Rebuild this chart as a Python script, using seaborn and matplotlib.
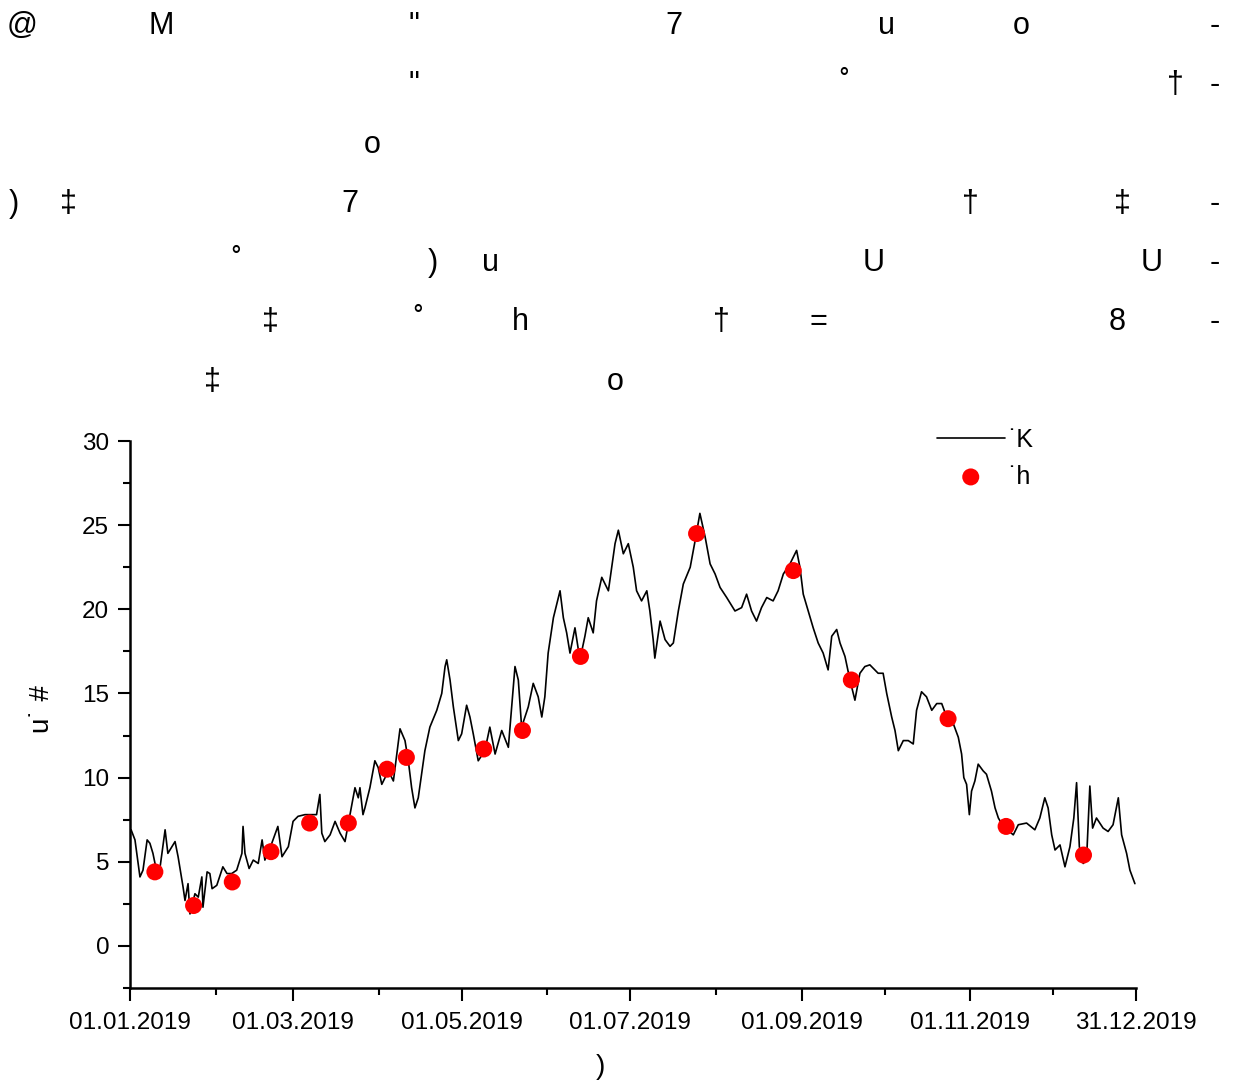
import numpy as np
import pandas as pd
import matplotlib
matplotlib.use("Agg")
import matplotlib.pyplot as plt
import matplotlib.dates as mdates
from matplotlib.ticker import MultipleLocator, FixedLocator
import seaborn as sns

# ---------------------------------------------------
# DATA
# ---------------------------------------------------

# day of year (0 = 01.01.2019) and value of the continuous series
line_days = [
    0.4, 1.8, 3.6, 4.7, 6.2, 7.2, 8.3, 9.8, 10.9, 12.7, 13.7, 15.2, 16.3, 17.4,
    19.2, 19.9, 21.0, 21.7, 23.5, 24.7, 26.0, 26.4, 27.9, 28.9, 29.7, 31.4,
    33.6, 35.1, 36.8, 38.6, 40.5, 40.9, 41.6, 43.1, 44.6, 46.4, 47.8, 48.8,
    51.3, 53.5, 55.0, 57.3, 59.0, 60.8, 63.3, 65.7, 67.5, 68.7, 69.4, 70.5,
    72.4, 74.2, 76.0, 77.8, 79.6, 81.4, 82.6, 83.2, 84.3, 85.0, 86.8, 88.6,
    89.8,
    91.1, 93.5, 95.3, 97.7, 99.5, 100.7, 101.9, 103.1, 104.3, 106.7, 108.5,
    111.0, 112.8, 114.0, 114.6, 115.8, 117.0, 118.8, 120.0, 121.8, 123.0,
    124.2, 126.0, 128.4, 130.2, 132.1, 134.5, 136.9, 138.1, 139.3, 140.5,
    141.7, 144.1, 145.9, 147.7, 149.0, 150.1, 151.3, 153.2, 155.6, 156.8,
    158.0, 159.2, 161.0, 162.8, 164.6, 165.8, 167.6, 168.8, 170.7, 173.1,
    175.5, 176.7, 178.5, 180.3, 182.1,
    183.3, 185.1, 187.0, 188.1, 189.3, 189.9, 191.8, 193.6, 195.4, 196.6,
    198.4, 200.2, 202.7, 204.5, 206.2, 208.1, 209.9, 211.7, 213.5, 215.9,
    218.9, 221.3, 223.1, 224.9, 226.7, 228.5, 230.4, 232.7, 234.5, 236.4,
    238.8, 241.2, 242.4, 243.6, 245.4, 247.2, 249.0, 250.8, 252.6, 253.9,
    255.7, 256.9, 258.7, 260.5, 262.3, 264.1, 265.9, 267.7, 270.7,
    272.5, 273.8, 275.6, 276.8, 278.0, 279.8, 281.6, 283.4, 284.6, 286.4,
    288.2, 290.1, 291.9, 293.7, 295.5, 297.9, 299.7, 300.9, 301.7, 302.7,
    303.7, 304.5, 305.7, 306.9, 308.7, 309.9, 311.7, 313.0, 314.2, 316.0,
    319.6, 321.4, 324.4, 327.4, 329.2, 331.0, 332.2, 333.5, 334.7, 336.5,
    338.3, 340.1, 341.5, 342.5, 343.5, 344.9, 346.1, 347.3, 348.3, 349.7,
    352.1, 353.9, 355.7, 357.6, 358.8, 360.6, 361.8, 363.6,
]
line_values = [
    6.9, 6.3, 4.1, 4.5, 6.3, 6.1, 5.5, 4.3, 4.7, 6.9, 5.5, 5.9, 6.2, 5.3,
    3.5, 2.7, 3.7, 1.9, 3.1, 2.9, 4.1, 2.3, 4.4, 4.3, 3.4, 3.6,
    4.7, 4.3, 4.3, 4.5, 5.5, 7.1, 5.5, 4.6, 5.1, 4.9, 6.3, 5.1,
    6.1, 7.1, 5.3, 5.9, 7.4, 7.7, 7.8, 7.8, 7.8, 9.0, 6.7, 6.2,
    6.6, 7.4, 6.7, 6.2, 7.8, 9.4, 8.8, 9.4, 7.8, 8.2, 9.4, 11.0,
    10.6,
    9.6, 10.4, 9.8, 12.9, 12.2, 11.0, 9.4, 8.2, 8.8, 11.6, 13.0,
    14.0, 15.0, 16.6, 17.0, 15.8, 14.2, 12.2, 12.6, 14.3, 13.6,
    12.6, 11.0, 11.6, 13.0, 11.4, 12.8, 11.8, 14.2, 16.6, 15.8,
    13.0, 14.2, 15.6, 14.8, 13.6, 14.8, 17.4, 19.5, 21.1, 19.5,
    18.6, 17.4, 18.9, 17.0, 18.4, 19.5, 18.6, 20.5, 21.9, 21.1,
    23.9, 24.7, 23.3, 23.9, 22.5,
    21.1, 20.5, 21.1, 19.9, 18.2, 17.1, 19.3, 18.2, 17.8, 18.0,
    19.9, 21.5, 22.5, 24.1, 25.7, 24.3, 22.7, 22.1, 21.3, 20.7,
    19.9, 20.1, 20.9, 19.9, 19.3, 20.1, 20.7, 20.5, 21.1, 22.1,
    22.7, 23.5, 22.5, 20.9, 19.9, 18.9, 18.0, 17.4, 16.4, 18.4,
    18.8, 18.0, 17.2, 15.8, 14.6, 16.2, 16.6, 16.7, 16.2,
    16.2, 15.0, 13.6, 12.8, 11.6, 12.2, 12.2, 12.0, 14.0, 15.1,
    14.8, 14.0, 14.4, 14.4, 13.6, 13.2, 12.4, 11.4, 10.0, 9.6,
    7.8, 9.2, 9.8, 10.8, 10.4, 10.2, 9.2, 8.2, 7.6, 7.1,
    6.6, 7.2, 7.3, 6.9, 7.6, 8.8, 8.2, 6.6, 5.7, 6.0,
    4.7, 5.9, 7.6, 9.7, 5.9, 4.9, 5.1, 9.5, 7.0, 7.6,
    7.0, 6.8, 7.2, 8.8, 6.6, 5.5, 4.5, 3.7,
]

# red point series
point_days = [9, 23, 37, 51, 65, 79, 93, 100, 128, 142, 163, 205, 240, 261, 296, 317, 345]
point_values = [4.4, 2.4, 3.8, 5.6, 7.3, 7.3, 10.5, 11.2, 11.7, 12.8, 17.2, 24.5,
                22.3, 15.8, 13.5, 7.1, 5.4]

line_label = "˙K"
point_label = "˙h"
y_label = "u˙ #"
x_label = ")"

major_dates = ["2019-01-01", "2019-03-01", "2019-05-01", "2019-07-01",
               "2019-09-01", "2019-11-01", "2019-12-31"]
minor_dates = ["2019-02-01", "2019-04-01", "2019-06-01", "2019-08-01",
               "2019-10-01", "2019-12-01"]

# header lines, as scattered glyphs
header_rows = [
    [("@", 22), ("M", 161), ('"', 414), ("7", 674), ("u", 887), ("o", 1021), ("-", 1215)],
    [('"', 414), ("˚", 844), ("†", 1175), ("-", 1215)],
    [("o", 372)],
    [(")", 14), ("‡", 68), ("7", 350), ("†", 970), ("‡", 1122), ("-", 1215)],
    [("˚", 236), (")", 433), ("u", 490), ("U", 874), ("U", 1152), ("-", 1215)],
    [("‡", 270), ("˚", 418), ("h", 520), ("†", 721), ("=", 818), ("8", 1117), ("-", 1215)],
    [("‡", 212), ("o", 615)],
]

start = pd.Timestamp("2019-01-01")
line_df = pd.DataFrame({
    "date": start + pd.to_timedelta(line_days, unit="D"),
    "value": line_values,
})
point_df = pd.DataFrame({
    "date": start + pd.to_timedelta(point_days, unit="D"),
    "value": point_values,
})

# ---------------------------------------------------
# PLOT
# ---------------------------------------------------

sns.set_style("ticks")
plt.rcParams["font.family"] = ["Liberation Sans", "DejaVu Sans"]
plt.rcParams["text.color"] = "black"
plt.rcParams["axes.labelcolor"] = "black"
plt.rcParams["xtick.color"] = "black"
plt.rcParams["ytick.color"] = "black"

W, H = 1235, 1084
fig = plt.figure(figsize=(W / 100, H / 100), dpi=100)
ax = fig.add_axes([130 / W, 1 - 988 / H, 1006 / W, 547 / H])

sns.lineplot(data=line_df, x="date", y="value", color="black", linewidth=1.2,
             estimator=None, label=line_label, ax=ax)
sns.scatterplot(data=point_df, x="date", y="value", color="red", s=150,
                edgecolor="none", label=point_label, zorder=3, ax=ax)

ax.set_xlim(pd.Timestamp(major_dates[0]), pd.Timestamp(major_dates[-1]))
ax.set_ylim(-2.5, 30)

ax.xaxis.set_major_locator(FixedLocator(mdates.date2num(pd.to_datetime(major_dates))))
ax.xaxis.set_minor_locator(FixedLocator(mdates.date2num(pd.to_datetime(minor_dates))))
ax.xaxis.set_major_formatter(mdates.DateFormatter("%d.%m.%Y"))
ax.yaxis.set_major_locator(MultipleLocator(5))
ax.yaxis.set_minor_locator(MultipleLocator(2.5))

ax.tick_params(which="major", length=9, width=1.5, labelsize=17.5, color="black",
               labelcolor="black")
ax.tick_params(axis="x", which="major", pad=8)
ax.tick_params(axis="y", which="major", pad=6)
ax.tick_params(which="minor", length=5, width=1.5, color="black")

sns.despine(ax=ax)
for side in ["left", "bottom"]:
    ax.spines[side].set_linewidth(1.8)
    ax.spines[side].set_color("black")

ax.set_xlabel("")
ax.set_ylabel(y_label, fontsize=20)
ax.yaxis.set_label_coords(-0.075, 0.51)

fig.text(600 / W, 1 - 1067 / H, x_label, ha="center", va="center", fontsize=20)

ax.legend(frameon=False, loc="upper left", bbox_to_anchor=(927 / W, 1 - 418 / H),
          bbox_transform=fig.transFigure, fontsize=18, handlelength=2.7,
          handletextpad=0.15, labelspacing=0.5, borderaxespad=0)

baselines = [34, 93, 153, 212, 271, 330, 390]
for row, base in zip(header_rows, baselines):
    for ch, px in row:
        fig.text(px / W, 1 - base / H, ch, ha="center", va="baseline", fontsize=22,
                 family=["Liberation Sans Narrow", "Liberation Sans", "DejaVu Sans"])

fig.savefig("out.png", dpi=100)
